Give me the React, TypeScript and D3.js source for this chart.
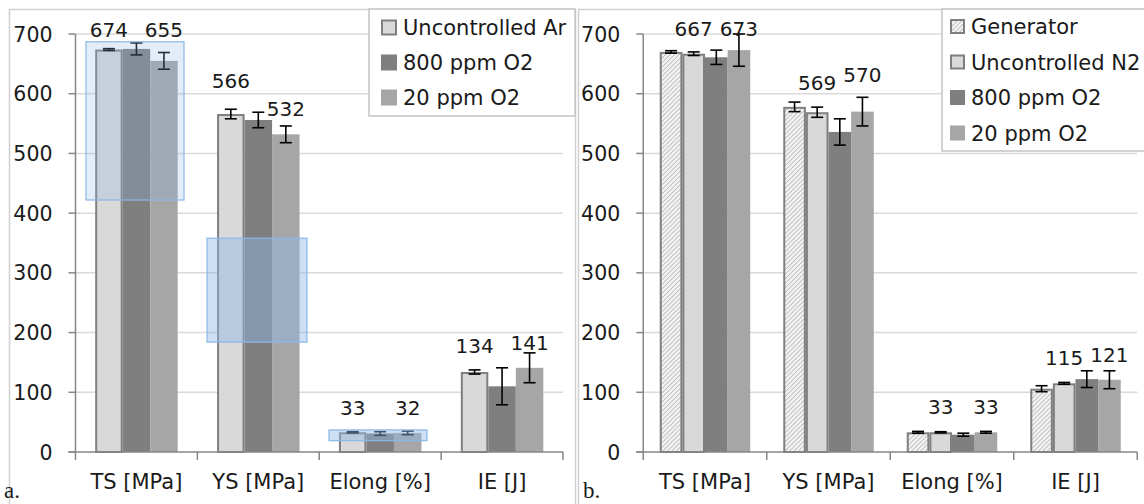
import React from "react";
import * as d3 from "d3";

const categories = ["TS [MPa]", "YS [MPa]", "Elong [%]", "IE [J]"];
const yTicks = [0, 100, 200, 300, 400, 500, 600, 700];

// Panel a
const seriesNamesA = ["Uncontrolled Ar", "800 ppm O2", "20 ppm O2"];
const uncontrolledAr = [674, 566, 33, 134];
const uncontrolledArErr = [1.5, 8, 1, 3.5];
const o2800A = [675, 556, 31, 110];
const o2800AErr = [10, 13, 3, 31];
const o220A = [655, 532, 32, 141];
const o220AErr = [14, 14, 3, 25];
// data labels (shown for series 1 and 3) and the level (data units) where they sit
const labelSeriesA = [0, 2];
const labelLevelA0 = [695, 610, 62, 166];
const labelLevelA2 = [695, 562, 62, 171];
// highlighted regions in panel a (data units)
const highlightA = [
  { cat: 0, lo: 422, hi: 687 },
  { cat: 1, lo: 184, hi: 358 },
  { cat: 2, lo: 19, hi: 37 },
];

// Panel b
const seriesNamesB = ["Generator", "Uncontrolled N2", "800 ppm O2", "20 ppm O2"];
const generator = [670, 578, 33, 106];
const generatorErr = [2, 8, 1.5, 5];
const uncontrolledN2 = [667, 569, 33, 115];
const uncontrolledN2Err = [3, 8.5, 1, 1.5];
const o2800B = [661, 536, 29, 122];
const o2800BErr = [12, 22, 2.5, 14];
const o220B = [673, 570, 33, 121];
const o220BErr = [27, 24, 1.5, 15];
const labelSeriesB = [1, 3];
const labelLevelB1 = [697, 607, 64, 145];
const labelLevelB3 = [697, 619, 64, 151];

const FONT = "'DejaVu Sans', Verdana, sans-serif";
const AXIS = "#868686";
const GRID = "#d9d9d9";

type Style = { fill: string; stroke?: string };

const styleUncontrolled: Style = { fill: "#d9d9d9", stroke: "#7f7f7f" };
const style800: Style = { fill: "#7f7f7f" };
const style20: Style = { fill: "#a6a6a6" };
const styleGen: Style = { fill: "url(#hatch)", stroke: "#7f7f7f" };

function Panel(props: {
  x0: number;
  x1: number;
  groupW: number;
  names: string[];
  values: number[][];
  errs: number[][];
  styles: Style[];
  labelSeries: number[];
  labelLevels: number[][];
  highlights?: { cat: number; lo: number; hi: number }[];
  hlX?: [number, number][];
  legend: { x: number; y: number; w: number; h: number; sw: number; swX: number; txX: number; rowY: number; rowH: number };
}) {
  const { x0, x1, groupW, names, values, errs, styles, labelSeries, labelLevels, legend } = props;
  const y = d3.scaleLinear().domain([0, 700]).range([452, 34]);
  const xb = d3.scaleBand<string>().domain(categories).range([x0, x1]).padding(0);
  const bw = xb.bandwidth();
  const off = (bw - groupW) / 2;
  const xs = d3.scaleBand<number>().domain(d3.range(names.length)).range([0, groupW]).padding(0);
  const barW = xs.bandwidth();
  return (
    <g>
      {yTicks.map((t) =>
        t === 0 ? null : (
          <line key={"g" + t} x1={x0} x2={x1} y1={y(t)} y2={y(t)} stroke={GRID} strokeWidth={1.5} />
        )
      )}
      {categories.map((c, ci) =>
        values.map((vals, si) => {
          const st = styles[si];
          const bx = (xb(c) as number) + off + (xs(si) as number);
          const sw = st.stroke ? 2 : 0;
          return (
            <rect
              key={c + si}
              x={bx + sw / 2}
              y={y(vals[ci]) + sw / 2}
              width={barW - sw}
              height={y(0) - y(vals[ci]) - sw / 2}
              fill={st.fill}
              stroke={st.stroke || "none"}
              strokeWidth={sw}
            />
          );
        })
      )}
      {categories.map((c, ci) =>
        values.map((vals, si) => {
          const cx = (xb(c) as number) + off + (xs(si) as number) + barW / 2;
          const v = vals[ci];
          const e = errs[si][ci];
          const yt = y(v + e);
          const yb = y(v - e);
          return (
            <g key={"e" + c + si} stroke="#000" strokeWidth={1.6}>
              <line x1={cx} x2={cx} y1={yt} y2={yb} />
              <line x1={cx - 6} x2={cx + 6} y1={yt} y2={yt} />
              <line x1={cx - 6} x2={cx + 6} y1={yb} y2={yb} />
            </g>
          );
        })
      )}
      {props.highlights &&
        props.highlights.map((h, i) => {
          const [a, b] = props.hlX![i];
          return (
            <rect
              key={"h" + i}
              x={a}
              y={y(h.hi)}
              width={b - a}
              height={y(h.lo) - y(h.hi)}
              fill="#8fb8e8"
              fillOpacity={i === 0 ? 0.25 : 0.45}
              stroke="#8ab8e6"
              strokeWidth={1.2}
            />
          );
        })}
      {/* axes */}
      <line x1={x0} x2={x0} y1={y(700)} y2={y(0)} stroke={AXIS} strokeWidth={1.5} />
      {yTicks.map((t) => (
        <g key={"yt" + t}>
          <line x1={x0 - 7} x2={x0} y1={y(t)} y2={y(t)} stroke={AXIS} strokeWidth={1.5} />
          <text x={x0 - 23} y={y(t) + 7.5} textAnchor="end" fontFamily={FONT} fontSize={20.5} fill="#1a1a1a">
            {t}
          </text>
        </g>
      ))}
      <line x1={x0 - 7} x2={x1} y1={y(0)} y2={y(0)} stroke={AXIS} strokeWidth={1.5} />
      {d3.range(categories.length + 1).map((i) => (
        <line key={"xt" + i} x1={x0 + i * bw} x2={x0 + i * bw} y1={y(0)} y2={y(0) + 8} stroke={AXIS} strokeWidth={1.5} />
      ))}
      {categories.map((c) => (
        <text key={"xl" + c} x={(xb(c) as number) + bw / 2} y={489} textAnchor="middle" fontFamily={FONT} fontSize={21} fill="#1a1a1a">
          {c}
        </text>
      ))}
      {labelSeries.map((si, k) =>
        categories.map((c, ci) => (
          <text
            key={"dl" + si + c}
            x={(xb(c) as number) + off + (xs(si) as number) + barW / 2}
            y={y(labelLevels[k][ci])}
            textAnchor="middle"
            fontFamily={FONT}
            fontSize={20}
            fill="#1a1a1a"
          >
            {values[si][ci]}
          </text>
        ))
      )}
      {/* legend */}
      <rect x={legend.x} y={legend.y} width={legend.w} height={legend.h} fill="#fff" stroke="#c4c4c4" strokeWidth={1.5} />
      {names.map((n, i) => {
        const st = styles[i];
        const cy = legend.rowY + i * legend.rowH;
        const sw = st.stroke ? 2 : 0;
        return (
          <g key={"lg" + n}>
            <rect
              x={legend.swX + sw / 2}
              y={cy - legend.sw / 2 + sw / 2}
              width={legend.sw - sw}
              height={legend.sw - sw}
              fill={st.fill}
              stroke={st.stroke || "none"}
              strokeWidth={sw}
            />
            <text x={legend.txX} y={cy + 7.5} fontFamily={FONT} fontSize={21} fill="#1a1a1a">
              {n}
            </text>
          </g>
        );
      })}
    </g>
  );
}

export default function App() {
  return (
    <svg
      width={1144}
      height={504}
      viewBox="0 0 1144 504"
      style={{ position: "absolute", left: 0, top: 0, background: "#fff" }}
    >
      <defs>
        <pattern id="hatch" width={3.2} height={3.2} patternUnits="userSpaceOnUse" patternTransform="rotate(45)">
          <rect width={3.2} height={3.2} fill="#f2f2f2" />
          <line x1={0} y1={0} x2={0} y2={3.2} stroke="#a0a0a0" strokeWidth={1.1} />
        </pattern>
      </defs>
      <rect x={0} y={0} width={1144} height={504} fill="#fff" />
      <rect x={9.5} y={9.5} width={566} height={520} fill="none" stroke="#d0d0d0" strokeWidth={1.5} />
      <rect x={578.5} y={9.5} width={600} height={520} fill="none" stroke="#d0d0d0" strokeWidth={1.5} />
      <Panel
        x0={75.5}
        x1={563}
        groupW={82.5}
        names={seriesNamesA}
        values={[uncontrolledAr, o2800A, o220A]}
        errs={[uncontrolledArErr, o2800AErr, o220AErr]}
        styles={[styleUncontrolled, style800, style20]}
        labelSeries={labelSeriesA}
        labelLevels={[labelLevelA0, labelLevelA2]}
        highlights={highlightA}
        hlX={[
          [86, 184],
          [207, 307],
          [329, 427],
        ]}
        legend={{ x: 369, y: 9, w: 206, h: 107, sw: 16, swX: 381, txX: 403, rowY: 27.5, rowH: 35 }}
      />
      <Panel
        x0={643.25}
        x1={1137.25}
        groupW={90.5}
        names={seriesNamesB}
        values={[generator, uncontrolledN2, o2800B, o220B]}
        errs={[generatorErr, uncontrolledN2Err, o2800BErr, o220BErr]}
        styles={[styleGen, styleUncontrolled, style800, style20]}
        labelSeries={labelSeriesB}
        labelLevels={[labelLevelB1, labelLevelB3]}
        legend={{ x: 942, y: 9, w: 203, h: 142, sw: 15, swX: 950, txX: 971, rowY: 26.5, rowH: 35.5 }}
      />
      <text x={4} y={498} fontFamily="'Liberation Serif', 'Times New Roman', serif" fontSize={23} fill="#1a1a1a">
        a.
      </text>
      <text x={583} y={498} fontFamily="'Liberation Serif', 'Times New Roman', serif" fontSize={23} fill="#1a1a1a">
        b.
      </text>
    </svg>
  );
}
